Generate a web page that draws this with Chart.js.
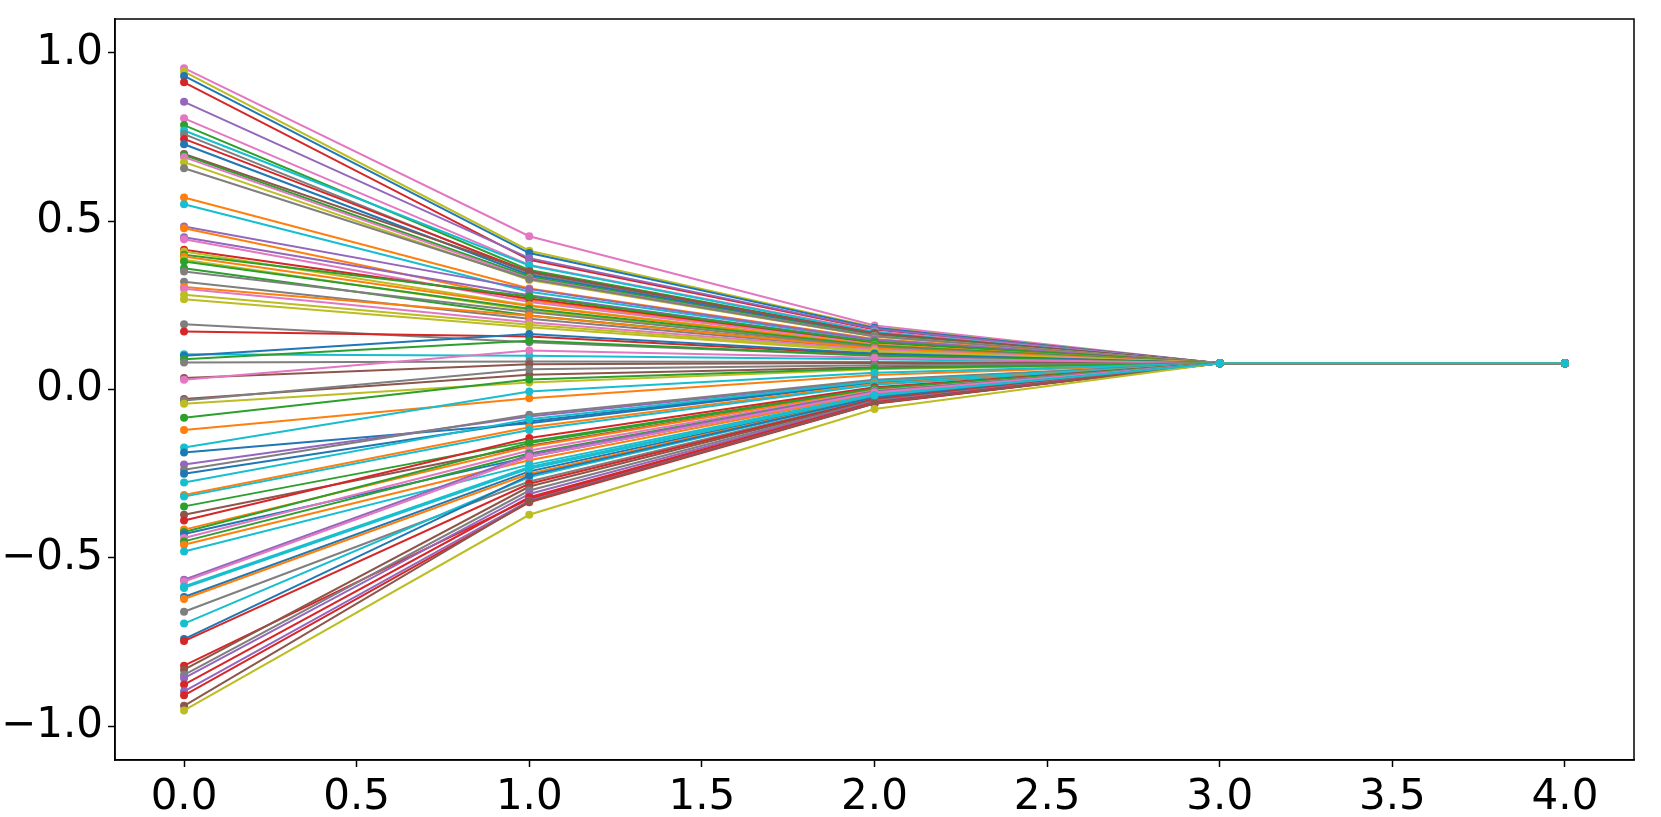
<!DOCTYPE html>
<html>
<head>
<meta charset="utf-8">
<script src="https://cdn.jsdelivr.net/npm/chart.js@4.4.1/dist/chart.umd.min.js"></script>
<style>
    html, body { margin: 0; padding: 0; background: #fff; }
    #wrap { width: 1661px; height: 817px; }
</style>
</head>
<body>
<div id="wrap"><canvas id="convChart" width="1661" height="817"></canvas></div>
<script>
// x positions of each step and the tick labels
const steps = [0, 1, 2, 3, 4];
const xTickVals = [0, 0.5, 1, 1.5, 2, 2.5, 3, 3.5, 4];
const yTickVals = [-1, -0.5, 0, 0.5, 1];

// value of every line at step 0, 1 and 2
const startVals = [
    0.954, 0.944, 0.931, 0.912, 0.854, 0.805, 0.785, 0.769, 0.758, 0.744,
    0.728, 0.699, 0.696, 0.690, 0.675, 0.657, 0.570, 0.550, 0.484, 0.479,
    0.452, 0.446, 0.415, 0.410, 0.400, 0.395, 0.385, 0.380, 0.360, 0.350,
    0.320, 0.304, 0.299, 0.281, 0.268, 0.194, 0.172, 0.105, 0.100, 0.090,
    0.080, 0.034, 0.029, -0.028, -0.033, -0.042, -0.084, -0.120, -0.172, -0.187,
    -0.223, -0.238, -0.250, -0.276, -0.313, -0.318, -0.347, -0.372, -0.389, -0.416,
    -0.423, -0.429, -0.441, -0.451, -0.461, -0.481, -0.565, -0.570, -0.585,
    -0.616, -0.622, -0.660, -0.695, -0.741, -0.747, -0.820, -0.832, -0.847, -0.857,
    -0.876, -0.896, -0.908, -0.939, -0.953, -0.589
];
const stepOneVals = [
    0.455, 0.412, 0.405, 0.385, 0.390, 0.370, 0.355, 0.368, 0.345, 0.350,
    0.340, 0.350, 0.335, 0.330, 0.325, 0.328, 0.300, 0.290, 0.298, 0.265,
    0.280, 0.260, 0.270, 0.250, 0.276, 0.248, 0.235, 0.240, 0.220, 0.230,
    0.210, 0.219, 0.200, 0.192, 0.185, 0.140, 0.157, 0.100, 0.165, 0.145,
    0.083, 0.075, 0.116, 0.044, 0.060, 0.021, 0.030, -0.026, -0.006, -0.100,
    -0.080, -0.075, -0.095, -0.088, -0.112, -0.120, -0.154, -0.167, -0.144, -0.170,
    -0.159, -0.200, -0.181, -0.190, -0.210, -0.223, -0.194, -0.200, -0.230,
    -0.243, -0.250, -0.273, -0.260, -0.255, -0.280, -0.325, -0.288, -0.300, -0.310,
    -0.320, -0.330, -0.335, -0.332, -0.372, -0.235
];
const stepTwoVals = [
    0.190, 0.185, 0.183, 0.178, 0.180, 0.172, 0.168, 0.170, 0.165, 0.167,
    0.163, 0.166, 0.160, 0.158, 0.157, 0.158, 0.150, 0.146, 0.148, 0.138,
    0.142, 0.136, 0.140, 0.133, 0.141, 0.132, 0.128, 0.130, 0.123, 0.126,
    0.120, 0.122, 0.117, 0.114, 0.112, 0.100, 0.104, 0.090, 0.107, 0.101,
    0.082, 0.079, 0.094, 0.066, 0.072, 0.060, 0.063, 0.043, 0.050, 0.020,
    0.027, 0.029, 0.022, 0.024, 0.016, 0.014, 0.004, 0.000, 0.007, -0.001,
    0.003, -0.009, -0.004, -0.006, -0.012, -0.015, -0.007, -0.009, -0.017,
    -0.020, -0.022, -0.027, -0.024, -0.023, -0.029, -0.040, -0.031, -0.034, -0.036,
    -0.038, -0.041, -0.042, -0.041, -0.058, -0.018
];
// every line ends on the same value at steps 3 and 4
const settledVal = 0.078;

const lineColors = [
    'pink', 'olive', 'blue', 'red', 'purple', 'pink', 'green', 'cyan', 'gray', 'red',
    'blue', 'brown', 'green', 'pink', 'olive', 'gray', 'orange', 'cyan', 'purple', 'orange',
    'purple', 'pink', 'red', 'olive', 'green', 'orange', 'olive', 'green', 'green', 'gray',
    'gray', 'orange', 'pink', 'olive', 'olive', 'gray', 'red', 'cyan', 'blue', 'green',
    'gray', 'brown', 'pink', 'brown', 'gray', 'olive', 'green', 'orange', 'cyan', 'blue',
    'purple', 'gray', 'blue', 'cyan', 'orange', 'cyan', 'green', 'brown', 'red', 'orange',
    'green', 'blue', 'pink', 'green', 'orange', 'cyan', 'purple', 'pink', 'cyan',
    'blue', 'orange', 'gray', 'cyan', 'blue', 'red', 'red', 'brown', 'gray', 'purple',
    'red', 'purple', 'red', 'brown', 'olive', 'cyan'
];

const tab10 = {
    blue: '#1f77b4', orange: '#ff7f0e', green: '#2ca02c', red: '#d62728', purple: '#9467bd',
    brown: '#8c564b', pink: '#e377c2', gray: '#7f7f7f', olive: '#bcbd22', cyan: '#17becf'
};

function fmt(v) {
    const s = Math.abs(v).toFixed(1);
    return v < 0 ? '\u2212' + s : s;
}

// matplotlib-style box around the plot
const framePlugin = {
    id: 'frame',
    afterDatasetsDraw(chart) {
        const { ctx, chartArea: a } = chart;
        ctx.save();
        ctx.strokeStyle = '#000';
        ctx.lineWidth = 1.5;
        ctx.strokeRect(a.left, a.top, a.right - a.left, a.bottom - a.top);
        ctx.restore();
    }
};

document.addEventListener('DOMContentLoaded', function () {
    const ctx = document.getElementById('convChart');

    const datasets = startVals.map((v, i) => {
        const ys = [v, stepOneVals[i], stepTwoVals[i], settledVal, settledVal];
        const c = tab10[lineColors[i]];
        return {
            data: steps.map((x, k) => ({ x: x, y: ys[k] })),
            borderColor: c,
            backgroundColor: c,
            pointBackgroundColor: c,
            pointBorderColor: c,
            borderWidth: 2,
            pointRadius: 4,
            pointBorderWidth: 0,
            tension: 0,
            fill: false
        };
    }).reverse(); // chart.js paints index 0 on top, matplotlib paints the last line on top

    const tickFont = { family: 'DejaVu Sans', size: 42 };

    new Chart(ctx, {
        type: 'line',
        data: { datasets: datasets },
        options: {
            responsive: false,
            animation: false,
            events: [],
            layout: { padding: { top: 19, right: 27, left: 0, bottom: 0 } },
            plugins: {
                legend: { display: false },
                tooltip: { enabled: false }
            },
            scales: {
                x: {
                    type: 'linear',
                    min: -0.2,
                    max: 4.2,
                    afterBuildTicks: function (scale) {
                        scale.ticks = xTickVals.map(v => ({ value: v }));
                    },
                    afterFit: function (scale) {
                        scale.height = 57;
                        scale.paddingLeft = 0;
                        scale.paddingRight = 0;
                    },
                    ticks: {
                        color: '#000',
                        font: tickFont,
                        padding: 6,
                        maxRotation: 0,
                        autoSkip: false,
                        callback: function (value) { return fmt(value); }
                    },
                    grid: { drawOnChartArea: false, color: '#000', tickLength: 7, tickWidth: 1.5 },
                    border: { display: true, color: '#000', width: 1.5 }
                },
                y: {
                    type: 'linear',
                    min: -1.1,
                    max: 1.1,
                    afterBuildTicks: function (scale) {
                        scale.ticks = yTickVals.map(v => ({ value: v }));
                    },
                    afterFit: function (scale) {
                        scale.width = 115;
                        scale.paddingTop = 0;
                        scale.paddingBottom = 0;
                    },
                    ticks: {
                        color: '#000',
                        font: tickFont,
                        padding: 5,
                        autoSkip: false,
                        callback: function (value) { return fmt(value); }
                    },
                    grid: { drawOnChartArea: false, color: '#000', tickLength: 7, tickWidth: 1.5 },
                    border: { display: true, color: '#000', width: 1.5 }
                }
            }
        },
        plugins: [framePlugin]
    });
});
</script>
</body>
</html>
